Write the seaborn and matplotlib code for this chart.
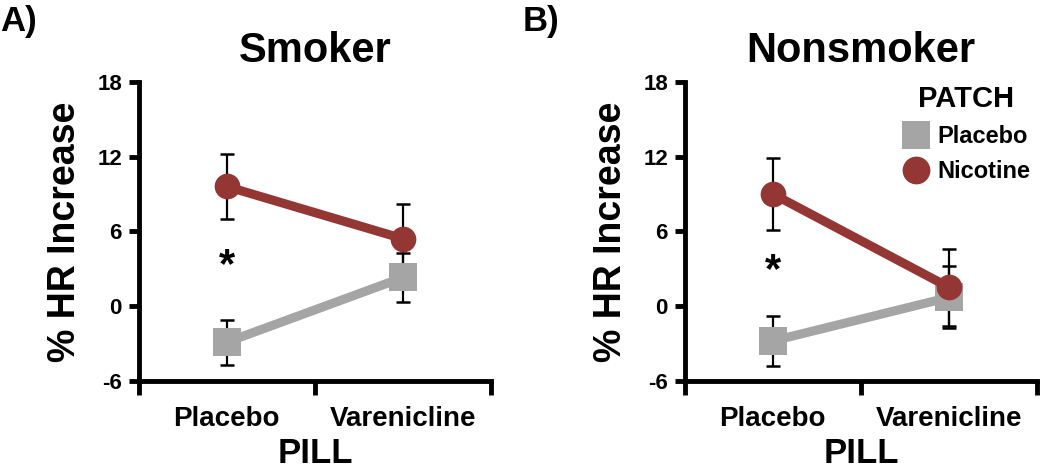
import matplotlib
matplotlib.use('Agg')
import matplotlib.pyplot as plt
import seaborn as sns
import pandas as pd
from matplotlib.lines import Line2D

# Data (mean % HR increase and SE)
pill = ['Placebo', 'Varenicline']
patch = ['Placebo', 'Nicotine']

smoker_placebo = [-2.9, 2.3]
smoker_placebo_err = [1.8, 2.0]
smoker_nicotine = [9.6, 5.4]
smoker_nicotine_err = [2.6, 2.8]

nonsmoker_placebo = [-2.8, 0.7]
nonsmoker_placebo_err = [2.0, 2.5]
nonsmoker_nicotine = [9.0, 1.5]
nonsmoker_nicotine_err = [2.9, 3.1]

star_y = [3.2, 2.8]

colors = {'Placebo': '#a5a5a5', 'Nicotine': '#943634'}

sns.set_style('ticks')
plt.rcParams['font.family'] = ['Liberation Sans', 'DejaVu Sans']
plt.rcParams['font.weight'] = 'bold'
plt.rcParams['axes.unicode_minus'] = False
plt.rcParams['text.color'] = 'black'
plt.rcParams['axes.labelcolor'] = 'black'
plt.rcParams['xtick.color'] = 'black'
plt.rcParams['ytick.color'] = 'black'

fig = plt.figure(figsize=(10.5, 4.76), dpi=100)
ax1 = fig.add_axes([0.132, 0.2, 0.336, 0.628])
ax2 = fig.add_axes([0.652, 0.2, 0.336, 0.628])

panels = [
    (ax1, 'Smoker', smoker_placebo, smoker_placebo_err,
     smoker_nicotine, smoker_nicotine_err, star_y[0]),
    (ax2, 'Nonsmoker', nonsmoker_placebo, nonsmoker_placebo_err,
     nonsmoker_nicotine, nonsmoker_nicotine_err, star_y[1]),
]

for ax, title, pl, pl_err, nic, nic_err, sy in panels:
    df = pd.DataFrame({
        'PILL': pill * 2,
        'HR': pl + nic,
        'err': pl_err + nic_err,
        'PATCH': ['Placebo'] * 2 + ['Nicotine'] * 2,
    })

    n_before = len(ax.lines)
    sns.pointplot(data=df, x='PILL', y='HR', hue='PATCH', order=pill,
                  hue_order=patch, palette=colors, markers=['s', 'o'],
                  linestyles=['-', '-'], errorbar=None, legend=False, ax=ax)
    for ln in ax.lines[n_before:]:
        c = matplotlib.colors.to_hex(ln.get_color())
        if c == colors['Placebo']:
            ln.set_markersize(20)
            ln.set_zorder(3)
        else:
            ln.set_markersize(18.5)
            ln.set_zorder(4)
        ln.set_linewidth(6.5)
        ln.set_markeredgewidth(0)

    # error bars behind the markers
    for p in patch:
        sub = df[df['PATCH'] == p]
        ax.errorbar(range(len(sub)), sub['HR'], yerr=sub['err'], fmt='none',
                    ecolor='black', elinewidth=1.6, capsize=4.8,
                    capthick=1.8, zorder=1)

    ax.text(0, sy, '*', ha='center', va='center', fontsize=30,
            fontweight='bold')

    ax.set_xlim(-0.5, 1.5)
    ax.set_ylim(-6, 18)
    ax.set_yticks([-6, 0, 6, 12, 18])
    ax.set_xticks([-0.5, 0.5, 1.5])
    ax.set_xticklabels([])
    ax.set_xticks([0, 1], minor=True)
    ax.set_xticklabels(pill, minor=True, fontsize=20, fontweight='bold')
    ax.tick_params(axis='x', which='major', length=10, width=3.5,
                   direction='out')
    ax.tick_params(axis='x', which='minor', length=0, pad=18)
    ax.tick_params(axis='y', length=7, width=3.5, direction='out',
                   labelsize=16, pad=5)
    for lab in ax.get_yticklabels():
        lab.set_fontweight('bold')

    sns.despine(ax=ax)
    for s in ['left', 'bottom']:
        ax.spines[s].set_linewidth(3.5)
        ax.spines[s].set_color('black')

    ax.set_xlabel('PILL', fontsize=25, fontweight='bold', labelpad=4)
    ax.set_ylabel('% HR Increase', fontsize=27, fontweight='bold',
                  labelpad=10)
    ax.set_title(title, fontsize=30, fontweight='bold', pad=14)
    ax.patch.set_alpha(0)

fig.text(0.0, 0.99, 'A)', fontsize=25, fontweight='bold', va='top')
fig.text(0.498, 0.99, 'B)', fontsize=25, fontweight='bold', va='top')

handles = [
    Line2D([], [], marker='s', color=colors['Placebo'], linestyle='none',
           markersize=20, markeredgewidth=0),
    Line2D([], [], marker='o', color=colors['Nicotine'], linestyle='none',
           markersize=20, markeredgewidth=0),
]
leg = ax2.legend(handles, patch, title='PATCH', loc='upper right',
                 bbox_to_anchor=(1.04, 1.06), frameon=False,
                 prop={'size': 17, 'weight': 'bold'},
                 title_fontproperties={'size': 21, 'weight': 'bold'},
                 handletextpad=0.3, labelspacing=0.5, handlelength=1.2)
leg._legend_box.align = 'center'

fig.savefig('out.png', dpi=100)
